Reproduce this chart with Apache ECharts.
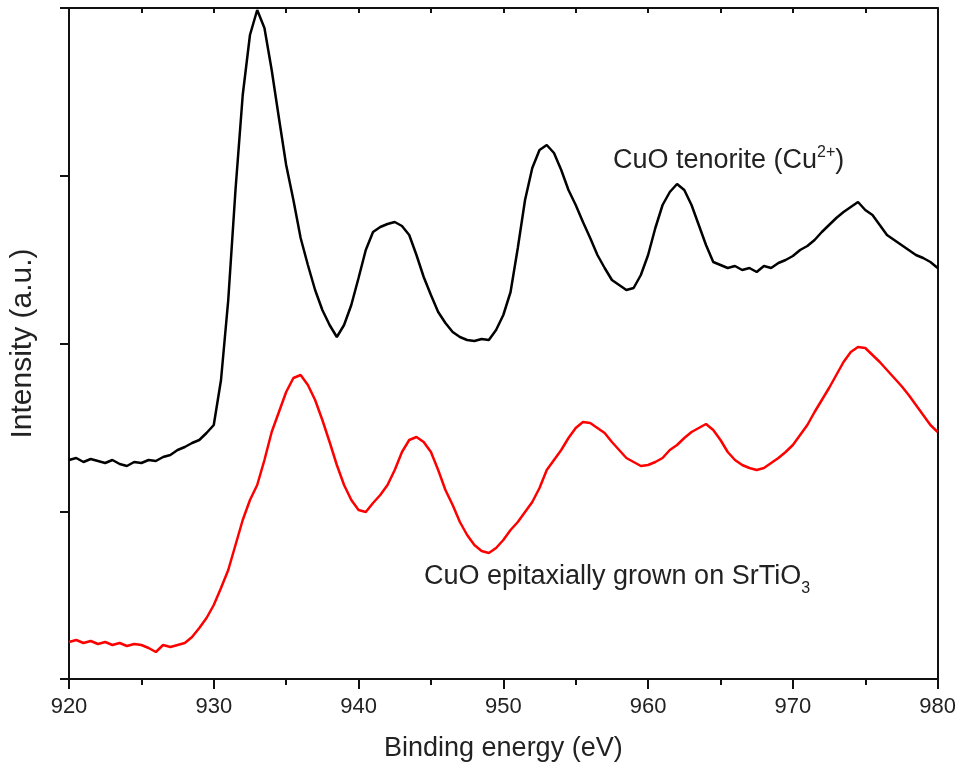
<!DOCTYPE html>
<html>
<head>
<meta charset="utf-8">
<title>CuO XPS Cu 2p</title>
<script src="https://cdn.jsdelivr.net/npm/echarts@6/dist/echarts.min.js"></script>
<style>
  html, body { margin: 0; padding: 0; background: #fff; }
  #chart { width: 959px; height: 768px; }
</style>
</head>
<body>
<div id="chart"></div>
<script>
// sampling grid of binding energy (eV), one reading every 0.5 eV
var eStart = 920;
var eStep = 0.5;

// intensity (a.u.), 920 -> 980 eV
var tenorite = [
  219, 221, 217, 220, 218, 216, 219, 215, 213, 217, 216, 219, 218, 222, 224, 229, 232, 236, 239, 246,
  254, 299, 379, 489, 584, 644, 669, 651, 609, 561, 514, 479, 441, 414, 389, 369, 354, 342, 354, 374,
  401, 429, 447, 452, 455, 457, 453, 444, 424, 402, 384, 367, 356, 347, 342, 339, 338, 340, 339, 349,
  364, 387, 431, 479, 511, 529, 534, 526, 509, 489, 474, 457, 441, 424, 411, 399, 394, 389, 391, 404,
  424, 451, 474, 487, 495, 489, 474, 454, 434, 417, 414, 411, 413, 409, 411, 407, 413, 411, 416, 419,
  423, 429, 433, 439, 447, 454, 461, 467, 472, 477, 469, 464, 454, 444, 439, 434, 429, 424, 421, 417,
  411
];

var epitaxial = [
  37, 39, 36, 38, 35, 37, 34, 36, 33, 35, 34, 31, 27, 34, 32, 34, 36, 42, 51, 61,
  74, 91, 109, 134, 159, 179, 194, 219, 247, 267, 287, 301, 304, 294, 279, 259, 237, 214, 194, 179,
  169, 167, 176, 184, 194, 209, 227, 239, 242, 237, 227, 209, 189, 174, 157, 144, 134, 128, 126, 131,
  139, 149, 157, 167, 177, 191, 209, 219, 229, 241, 251, 257, 256, 251, 246, 237, 229, 221, 217, 213,
  214, 217, 221, 229, 234, 241, 247, 251, 255, 249, 239, 227, 219, 214, 211, 209, 211, 216, 221, 227,
  234, 244, 254, 267, 279, 291, 304, 317, 327, 332, 331, 324, 317, 309, 301, 293, 284, 274, 264, 254,
  247
];

var xTicks = [920, 930, 940, 950, 960, 970, 980];

function pairs(vals) {
  var out = [];
  vals.forEach(function (v, i) {
    out.push([eStart + i * eStep, v]);
  });
  return out;
}

var chart = echarts.init(document.getElementById('chart'), null, { renderer: 'canvas' });

var font = 'Liberation Sans, Arial, sans-serif';
var axisColor = '#111';

var option = {
  animation: false,
  backgroundColor: '#fff',
  grid: { left: 68, right: 21, top: 8, bottom: 89 },
  xAxis: [{
    type: 'value',
    min: xTicks[0],
    max: xTicks[xTicks.length - 1],
    interval: 10,
    name: 'Binding energy (eV)',
    nameLocation: 'middle',
    nameGap: 56,
    nameTextStyle: { fontFamily: font, fontSize: 27, color: '#222' },
    axisLine: { show: true, onZero: false, lineStyle: { color: axisColor, width: 2 } },
    axisTick: { show: true, inside: false, length: 10, lineStyle: { color: axisColor, width: 2 } },
    minorTick: { show: true, splitNumber: 2, length: 6, lineStyle: { color: axisColor, width: 2 } },
    axisLabel: { fontFamily: font, fontSize: 22, color: '#222', margin: 17 },
    splitLine: { show: false }
  }, {
    type: 'value',
    position: 'top',
    min: 920,
    max: 980,
    interval: 5,
    axisLine: { show: true, onZero: false, lineStyle: { color: axisColor, width: 2 } },
    axisTick: { show: true, inside: true, length: 5, lineStyle: { color: axisColor, width: 2 } },
    axisLabel: { show: false },
    splitLine: { show: false }
  }],
  yAxis: [{
    type: 'value',
    min: 0,
    max: 671,
    interval: 167.75,
    name: 'Intensity (a.u.)',
    nameLocation: 'middle',
    nameGap: 31,
    nameTextStyle: { fontFamily: font, fontSize: 30, color: '#222' },
    axisLine: { show: true, onZero: false, lineStyle: { color: axisColor, width: 2 } },
    axisTick: { show: true, inside: false, length: 9, lineStyle: { color: axisColor, width: 2 } },
    axisLabel: { show: false },
    splitLine: { show: false }
  }, {
    type: 'value',
    position: 'right',
    min: 0,
    max: 671,
    axisLine: { show: true, onZero: false, lineStyle: { color: axisColor, width: 2 } },
    axisTick: { show: false },
    axisLabel: { show: false },
    splitLine: { show: false }
  }],
  series: [{
    name: 'CuO tenorite',
    type: 'line',
    showSymbol: false,
    data: pairs(tenorite),
    lineStyle: { color: '#000', width: 2.5 },
    itemStyle: { color: '#000' }
  }, {
    name: 'CuO on SrTiO3',
    type: 'line',
    showSymbol: false,
    data: pairs(epitaxial),
    lineStyle: { color: '#ff0000', width: 2.5 },
    itemStyle: { color: '#ff0000' }
  }],
  graphic: [{
    type: 'text',
    left: 613,
    top: 145,
    style: {
      text: '{a|CuO tenorite (Cu}{s|2+}{a|)}',
      fill: '#222',
      rich: {
        a: { fontFamily: font, fontSize: 27, lineHeight: 31, fill: '#222' },
        s: { fontFamily: font, fontSize: 16, lineHeight: 16, verticalAlign: 'top', fill: '#222' }
      }
    }
  }, {
    type: 'text',
    left: 424,
    top: 563,
    style: {
      text: '{a|CuO epitaxially grown on SrTiO}{s|3}',
      fill: '#222',
      rich: {
        a: { fontFamily: font, fontSize: 27, lineHeight: 41, fill: '#222' },
        s: { fontFamily: font, fontSize: 16, lineHeight: 16, verticalAlign: 'bottom', fill: '#222' }
      }
    }
  }]
};

chart.setOption(option);
</script>
</body>
</html>
